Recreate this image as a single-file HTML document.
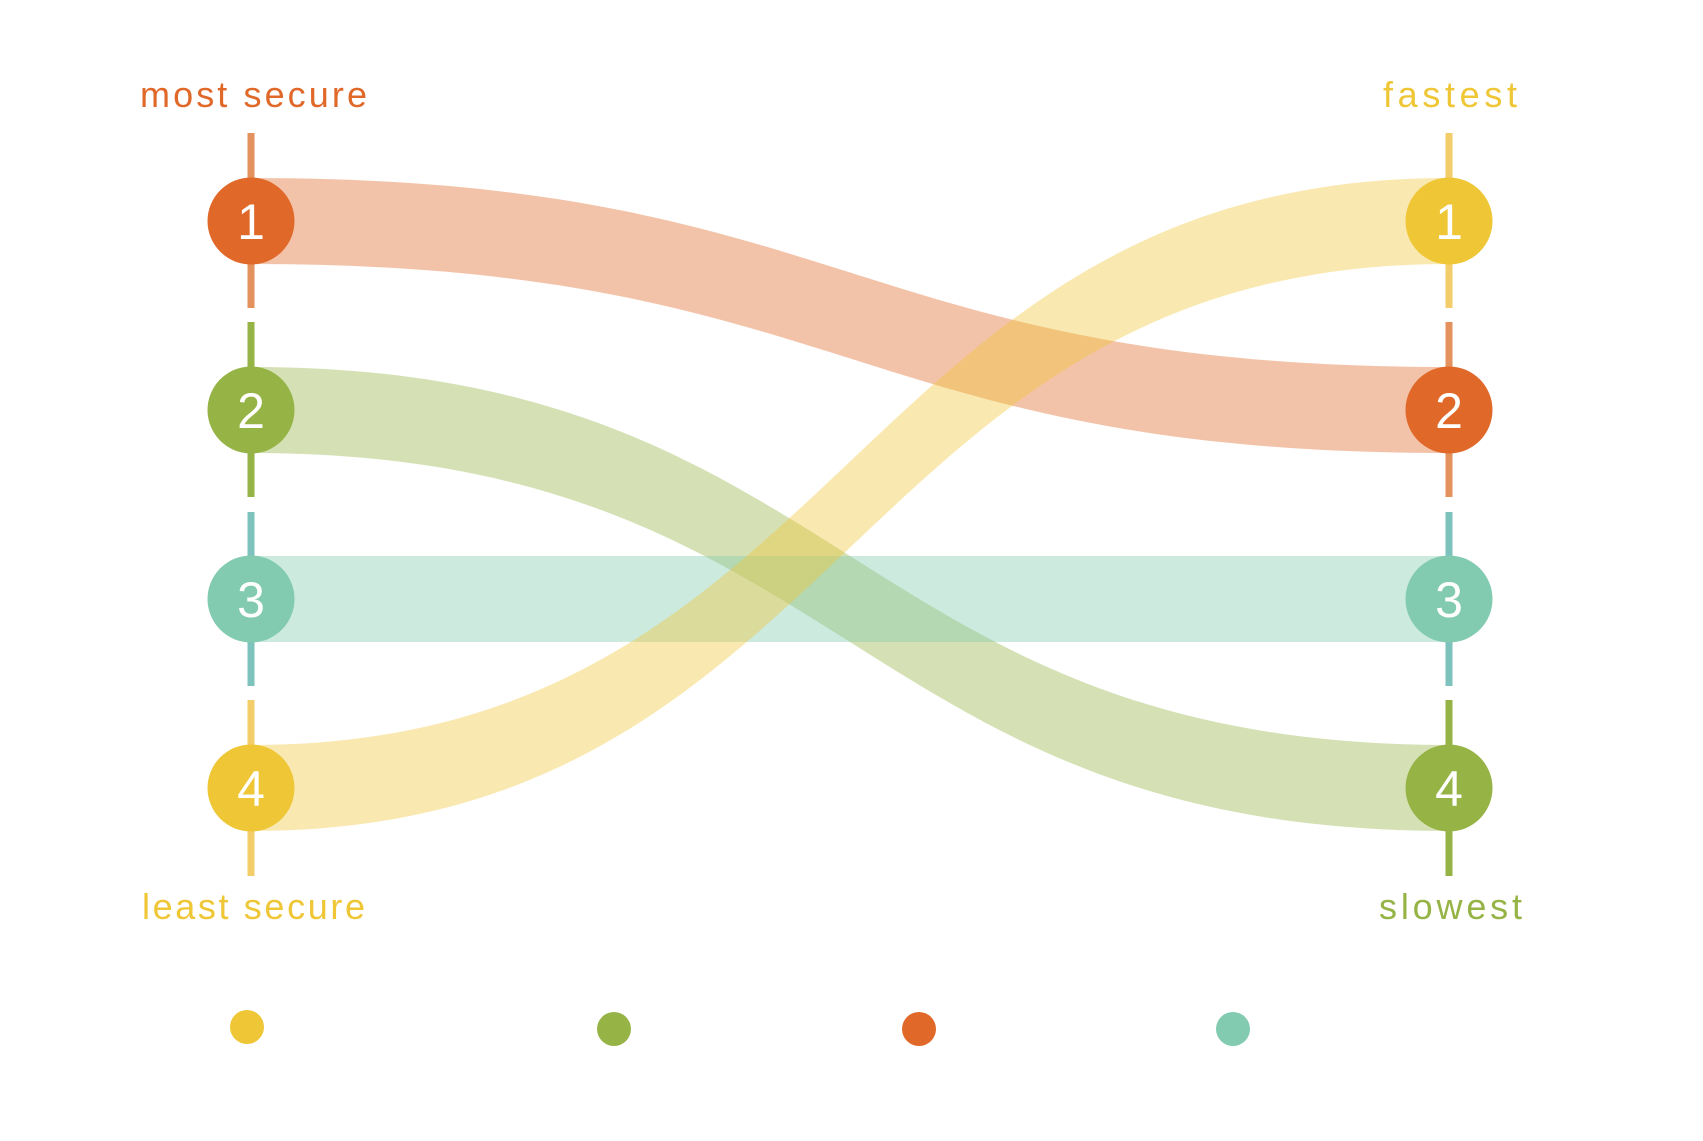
<!DOCTYPE html>
<html><head><meta charset="utf-8"><style>
html,body{margin:0;padding:0;background:#fff;}
svg{display:block;}
text{font-family:"Liberation Sans",sans-serif;}
</style></head><body>
<svg width="1703" height="1141" viewBox="0 0 1703 1141" xmlns="http://www.w3.org/2000/svg">
<rect width="1703" height="1141" fill="#fff"/>
<text x="140" y="107" font-size="36" fill="#e06829" textLength="227" lengthAdjust="spacing">most secure</text>
<text x="1383" y="107" font-size="36" fill="#efc636" textLength="134" lengthAdjust="spacing">fastest</text>
<text x="142" y="919" font-size="36" fill="#efc636" textLength="223" lengthAdjust="spacing">least secure</text>
<text x="1379" y="919" font-size="36" fill="#96b346" textLength="143" lengthAdjust="spacing">slowest</text>
<g stroke-width="7">
<line x1="251" y1="133" x2="251" y2="308" stroke="#e3915d"/>
<line x1="251" y1="322" x2="251" y2="497" stroke="#96b346"/>
<line x1="251" y1="512" x2="251" y2="686" stroke="#7ec2bd"/>
<line x1="251" y1="700" x2="251" y2="876" stroke="#f4cd6b"/>
<line x1="1449" y1="133" x2="1449" y2="308" stroke="#f4cd6b"/>
<line x1="1449" y1="322" x2="1449" y2="497" stroke="#e3915d"/>
<line x1="1449" y1="512" x2="1449" y2="686" stroke="#7ec2bd"/>
<line x1="1449" y1="700" x2="1449" y2="876" stroke="#96b346"/>
</g>
<g fill-opacity="0.4">
<path d="M251,178 C850,178 850,367 1449,367 L1449,453 C850,453 850,264 251,264 Z" fill="#e06829"/>
<path d="M251,367 C850,367 850,745 1449,745 L1449,831 C850,831 850,453 251,453 Z" fill="#96b346"/>
<rect x="251" y="556" width="1198" height="86" fill="#82cbb0"/>
<path d="M251,745 C850,745 850,178 1449,178 L1449,264 C850,264 850,831 251,831 Z" fill="#efc636"/>
</g>
<g>
<circle cx="251" cy="221" r="43.5" fill="#e06829"/>
<circle cx="251" cy="410" r="43.5" fill="#96b346"/>
<circle cx="251" cy="599" r="43.5" fill="#82cbb0"/>
<circle cx="251" cy="788" r="43.5" fill="#efc636"/>
<circle cx="1449" cy="221" r="43.5" fill="#efc636"/>
<circle cx="1449" cy="410" r="43.5" fill="#e06829"/>
<circle cx="1449" cy="599" r="43.5" fill="#82cbb0"/>
<circle cx="1449" cy="788" r="43.5" fill="#96b346"/>
</g>
<g font-size="50" fill="#fff" text-anchor="middle">
<text x="251" y="239">1</text>
<text x="251" y="428">2</text>
<text x="251" y="617">3</text>
<text x="251" y="806">4</text>
<text x="1449" y="239">1</text>
<text x="1449" y="428">2</text>
<text x="1449" y="617">3</text>
<text x="1449" y="806">4</text>
</g>
<circle cx="247" cy="1027" r="17" fill="#efc636"/>
<circle cx="614" cy="1029" r="17" fill="#96b346"/>
<circle cx="919" cy="1029" r="17" fill="#e06829"/>
<circle cx="1233" cy="1029" r="17" fill="#82cbb0"/>
</svg>
</body></html>
